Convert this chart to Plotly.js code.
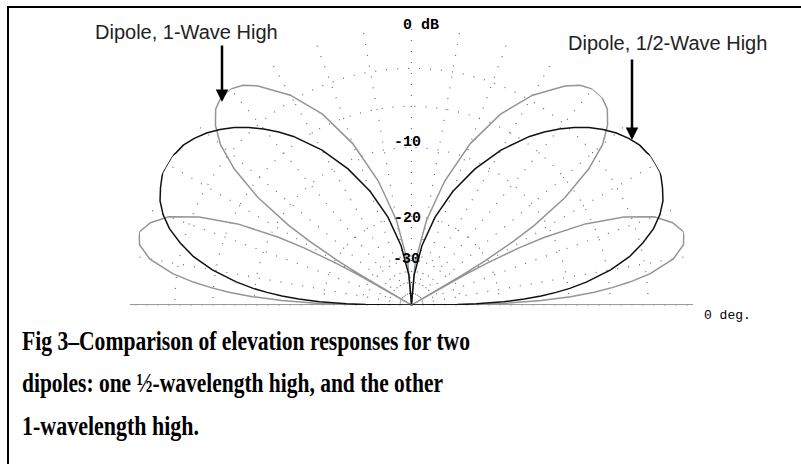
<!DOCTYPE html>
<html>
<head>
<meta charset="utf-8">
<script src="https://cdn.plot.ly/plotly-3.0.1.min.js"></script>
<style>
    html, body { margin: 0; padding: 0; background: #fff; }
    #chart { width: 801px; height: 464px; }
</style>
</head>
<body>
<div id="chart"></div>
<script>
// elevation angle (deg), 0 = right horizon, 180 = left horizon
const elevation = [
    0, 0.5, 1, 2, 3, 4, 5, 6, 7.5, 10, 12.5, 15, 17.5, 20, 22.5, 25, 27, 28, 29, 29.5,
    30, 30.5, 31, 32, 33, 35, 37.5, 40, 42.5, 45, 47.5, 50, 52.5, 55, 60, 65, 70, 75, 80, 85, 90,
    95, 100, 105, 110, 115, 120, 125, 127.5, 130, 132.5, 135, 137.5, 140, 142.5, 145, 147, 148, 149, 149.5,
    150, 150.5, 151, 152, 153, 155, 157.5, 160, 162.5, 165, 167.5, 170, 172.5, 174, 175, 176, 177, 178, 179, 179.5, 180
];

// dipole 1/2 wave high (dB)
const halfWaveDb = [
    -99, -31.2, -25.2, -19.2, -15.7, -13.3, -11.4, -9.8, -8.0, -5.7, -4.0, -2.8, -1.8, -1.1, -0.6, -0.3, -0.1, 0, 0, 0,
    0, 0, 0, 0, -0.1, -0.2, -0.5, -0.9, -1.4, -2.0, -2.7, -3.5, -4.4, -5.4, -7.8, -10.8, -14.5, -19.4, -26.4, -38.4, -99,
    -38.4, -26.4, -19.4, -14.5, -10.8, -7.8, -5.4, -4.4, -3.5, -2.7, -2.0, -1.4, -0.9, -0.5, -0.2, -0.1, 0, 0, 0,
    0, 0, 0, 0, -0.1, -0.3, -0.6, -1.1, -1.8, -2.8, -4.0, -5.7, -8.0, -9.8, -11.4, -13.3, -15.7, -19.2, -25.2, -31.2, -99
];

// dipole 1 wave high (dB)
const oneWaveDb = [
    -99, -25.2, -19.2, -13.3, -9.8, -7.4, -5.7, -4.3, -2.7, -1.0, -0.2, 0, -0.5, -1.5, -3.5, -6.6, -10.9, -14.4, -20.4, -26.5,
    -99, -26.5, -20.5, -14.6, -11.2, -7.0, -4.0, -2.1, -1.0, -0.3, 0, 0, -0.3, -0.9, -2.6, -5.0, -8.5, -13.5, -20.4, -32.4, -99,
    -32.4, -20.4, -13.5, -8.5, -5.0, -2.6, -0.9, -0.3, 0, 0, -0.3, -1.0, -2.1, -4.0, -7.0, -11.2, -14.6, -20.5, -26.5,
    -99, -26.5, -20.4, -14.4, -10.9, -6.6, -3.5, -1.5, -0.5, 0, -0.2, -1.0, -2.7, -4.3, -5.7, -7.4, -9.8, -13.3, -19.2, -25.2, -99
];

// grid rings (dB) and spokes (deg)
const ringDb = [-40, -30, -20, -10, -6, -3, 0];
const spokeDeg = [0, 10, 20, 30, 40, 50, 60, 70, 80, 90, 100, 110, 120, 130, 140, 150, 160, 170, 180];

const titleLines = [
    "Fig 3\u2013Comparison of elevation responses for two",
    "dipoles: one \u00bd-wavelength high, and the other",
    "1-wavelength high."
];
const titleWidths = [448, 421, 177];

// ARRL log scale: 2 dB per 0.89 step
const toR = db => Math.pow(0.89, -db / 2);

const W = 801, H = 464;
const px = x => x / W;
const py = y => 1 - y / H;

const GRID = "#6a6a6a";

const traces = [
    {
        type: "scatterpolar", mode: "lines",
        r: [1, 1], theta: [0, 180],
        line: {color: "#9a9a9a", width: 2},
        hoverinfo: "skip"
    },
    {
        type: "scatterpolar", mode: "lines",
        r: oneWaveDb.map(toR), theta: elevation,
        line: {color: "#959595", width: 1.5},
        name: "Dipole, 1-Wave High"
    },
    {
        type: "scatterpolar", mode: "lines",
        r: halfWaveDb.map(toR), theta: elevation,
        line: {color: "#111", width: 1.5},
        name: "Dipole, 1/2-Wave High"
    }
];

const monoFont = {family: "Liberation Mono, Courier New, monospace", size: 15, color: "#000"};
const sansFont = {family: "Liberation Sans, Arial, sans-serif", size: 20, color: "#222"};
const serifFont = {family: "Liberation Serif, Times New Roman, serif", size: 28, color: "#000"};

const annotations = [
    {x: px(186), y: py(32), text: "Dipole, 1-Wave High", font: sansFont},
    {x: px(667), y: py(43), text: "Dipole, 1/2-Wave High", font: sansFont},
    {x: px(421), y: py(25), text: "<b>0 dB</b>", font: monoFont},
    {x: px(407), y: py(142), text: "<b>-10</b>", font: monoFont},
    {x: px(407), y: py(218), text: "<b>-20</b>", font: monoFont},
    {x: px(406), y: py(259), text: "<b>-30</b>", font: monoFont},
    {x: px(727), y: py(315), text: "0 deg.", font: Object.assign({}, monoFont, {size: 13})},
    // arrows
    {x: px(222), y: py(102), ax: 0, ay: -58, text: "", showarrow: true,
        arrowhead: 2, arrowsize: 1, arrowwidth: 2.5, arrowcolor: "#000"},
    {x: px(632), y: py(140), ax: 0, ay: -82, text: "", showarrow: true,
        arrowhead: 2, arrowsize: 1, arrowwidth: 2.5, arrowcolor: "#000"}
].map(a => Object.assign({xref: "paper", yref: "paper", showarrow: false,
    xanchor: "center", yanchor: "middle"}, a));

// caption lines
titleLines.forEach((t, i) => {
    annotations.push({
        xref: "paper", yref: "paper", showarrow: false,
        x: px(20), y: py(340 + i * 42.5), xanchor: "left", yanchor: "middle", align: "left",
        text: "<b>" + t + "</b>", font: serifFont
    });
});

const layout = {
    width: W, height: H,
    margin: {l: 0, r: 0, t: 0, b: 0},
    paper_bgcolor: "#fff",
    showlegend: false,
    polar: {
        domain: {x: [px(129.5), px(693.5)], y: [py(305), py(23)]},
        sector: [0, 180],
        bgcolor: "rgba(0,0,0,0)",
        radialaxis: {
            range: [0, 1.0005],
            tickvals: ringDb.map(toR),
            showticklabels: false, ticks: "",
            showline: false,
            gridcolor: GRID, gridwidth: 1.2, griddash: "1px,10px"
        },
        angularaxis: {
            rotation: 0, direction: "counterclockwise",
            tickvals: spokeDeg,
            showticklabels: false, ticks: "",
            showline: false,
            gridcolor: GRID, gridwidth: 1.2, griddash: "1px,10px"
        }
    },
    shapes: [
        {type: "line", xref: "paper", yref: "paper", x0: px(7), x1: 1, y0: py(7), y1: py(7),
            line: {color: "#000", width: 2}},
        {type: "line", xref: "paper", yref: "paper", x0: px(8), x1: px(8), y0: py(6), y1: 0,
            line: {color: "#000", width: 2}}
    ],
    annotations: annotations
};

Plotly.newPlot("chart", traces, layout, {displayModeBar: false, staticPlot: true}).then(() => {
    // squeeze caption glyphs horizontally like the original scan
    document.querySelectorAll(".annotation-text").forEach(el => {
        const idx = titleLines.indexOf(el.textContent);
        if (idx >= 0) {
            el.setAttribute("textLength", titleWidths[idx]);
            el.setAttribute("lengthAdjust", "spacingAndGlyphs");
        }
    });
});
</script>
</body>
</html>
